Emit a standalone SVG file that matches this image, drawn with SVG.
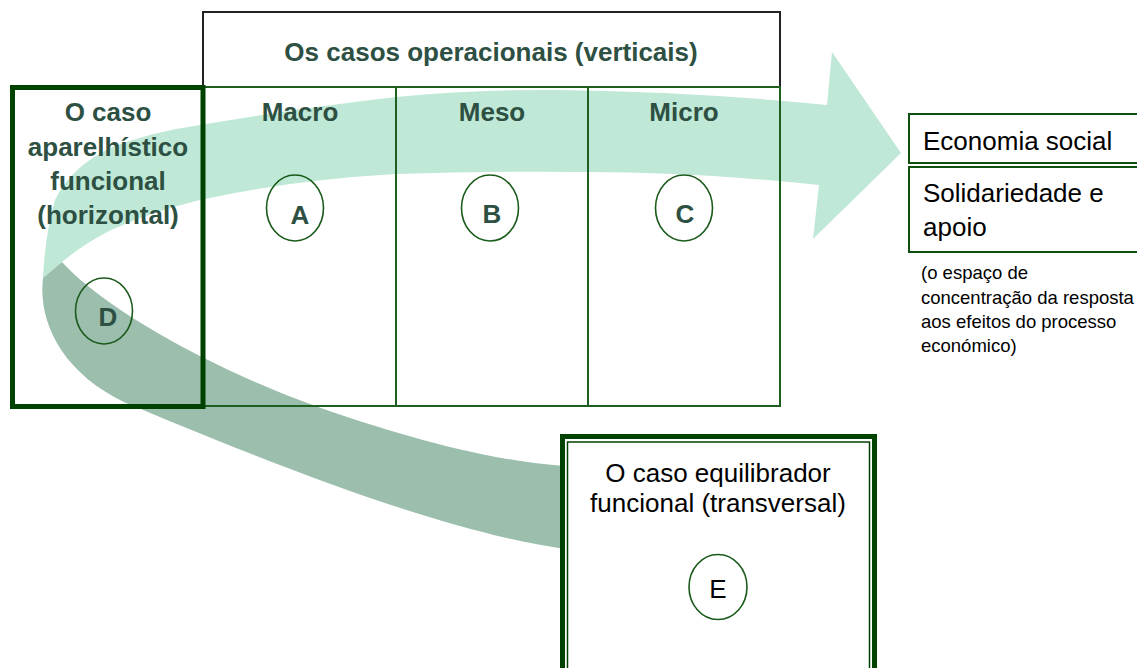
<svg xmlns="http://www.w3.org/2000/svg" width="1137" height="668" viewBox="0 0 1137 668">
<style>
.bt{font-family:"Liberation Sans",Arial,sans-serif;font-weight:bold;font-size:26px;fill:#2d5043;text-anchor:middle}
.rt{font-family:"Liberation Sans",Arial,sans-serif;font-size:26px;fill:#000}
.st{font-family:"Liberation Sans",Arial,sans-serif;font-size:18.5px;fill:#000}
.grid{fill:none;stroke:#1f5f1f;stroke-width:2}
.circ{fill:none;stroke:#1a5a1a;stroke-width:1.6}
</style>
<rect width="1137" height="668" fill="#fff"/>
<g id="connectors">
<path d="M43,278 Q45,235 55,200 Q70,168 110,148 Q150,132 200,125 Q300,108 396,97 Q480,89 560,90 Q700,92 827,105 L832,52 L901,153 L813,239 L819,185 Q700,172 587,172 Q490,171 396,174 Q290,180 200,200 Q150,212 111,230 Q85,243 62,262 Z" fill="#bfe8d6"/>
<path d="M43,278 C38,320 60,372 126,403 C240,450 430,530 565,549 L565,466 C480,460 390,432 318,407 C230,376 110,315 62,262 Z" fill="#9bbead"/>
</g>
<g id="header">
<path d="M203,86 L203,12 L780,12 L780,86" fill="none" stroke="#222" stroke-width="2"/>
<text class="bt" x="491" y="61">Os casos operacionais (verticais)</text>
</g>
<g id="grid">
<path class="grid" d="M203,87 L780,87 L780,406 L203,406 M396,87 L396,406 M588,87 L588,406"/>
</g>
<g id="macro">
<text class="bt" x="300" y="121">Macro</text>
<ellipse class="circ" cx="295" cy="208" rx="28.5" ry="33"/>
<text class="bt" x="300" y="224">A</text>
</g>
<g id="meso">
<text class="bt" x="492" y="121">Meso</text>
<ellipse class="circ" cx="490" cy="208" rx="28.5" ry="33"/>
<text class="bt" x="492" y="223">B</text>
</g>
<g id="micro">
<text class="bt" x="684" y="121">Micro</text>
<ellipse class="circ" cx="684" cy="208" rx="28.5" ry="33"/>
<text class="bt" x="685" y="223">C</text>
</g>
<g id="horizontal">
<rect x="12.5" y="87.5" width="190.5" height="319" fill="none" stroke="#004200" stroke-width="5"/>
<text class="bt" x="108" y="121">O caso</text>
<text class="bt" x="108" y="156">aparelhístico</text>
<text class="bt" x="108" y="190">funcional</text>
<text class="bt" x="108" y="224">(horizontal)</text>
<ellipse class="circ" cx="104" cy="311" rx="28.5" ry="33"/>
<text class="bt" x="108" y="326">D</text>
</g>
<g id="transversal">
<rect x="562.5" y="436.5" width="312" height="260" fill="#fff" stroke="#004200" stroke-width="5"/>
<rect x="567.5" y="442" width="302" height="250" fill="none" stroke="#004200" stroke-width="1.5"/>
<text class="rt" x="718" y="482" text-anchor="middle">O caso equilibrador</text>
<text class="rt" x="718" y="512" text-anchor="middle">funcional (transversal)</text>
<ellipse class="circ" cx="718" cy="587" rx="29" ry="32.5"/>
<text class="rt" x="718" y="598" text-anchor="middle">E</text>
</g>
<g id="economia">
<rect x="909" y="114" width="240" height="49" fill="none" stroke="#0f4f0f" stroke-width="2"/>
<text class="rt" x="923" y="150">Economia social</text>
</g>
<g id="solidariedade">
<rect x="909" y="167" width="240" height="85" fill="none" stroke="#0f4f0f" stroke-width="2"/>
<text class="rt" x="923" y="202">Solidariedade e</text>
<text class="rt" x="923" y="236">apoio</text>
</g>
<g id="nota">
<text class="st" x="921" y="279">(o espaço de</text>
<text class="st" x="921" y="304">concentração da resposta</text>
<text class="st" x="921" y="328">aos efeitos do processo</text>
<text class="st" x="921" y="352">económico)</text>
</g>
</svg>
